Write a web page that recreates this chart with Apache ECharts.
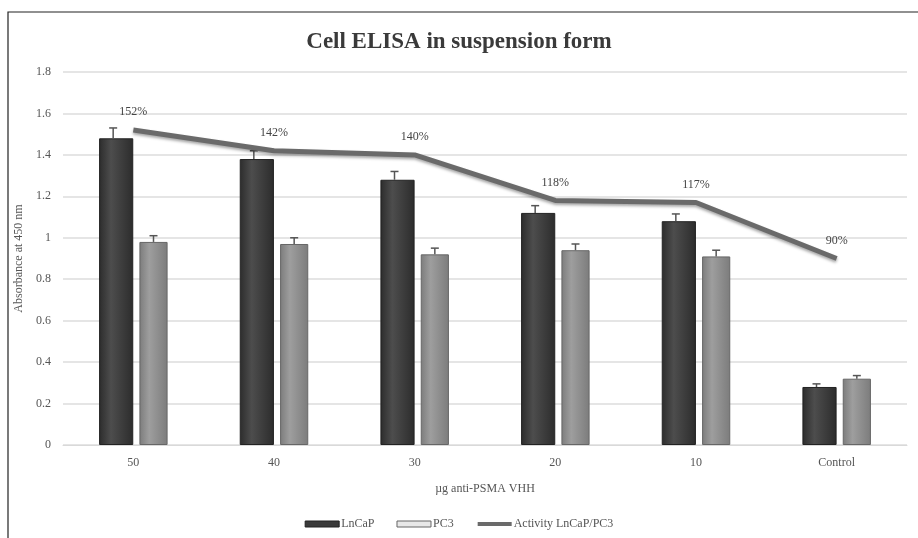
<!DOCTYPE html>
<html>
<head>
<meta charset="utf-8">
<title>Cell ELISA in suspension form</title>
<script src="https://cdn.jsdelivr.net/npm/echarts@6/dist/echarts.min.js"></script>
<style>
  html, body { margin: 0; padding: 0; background: #fff; }
  #chart { width: 918px; height: 538px; }
</style>
</head>
<body>
<div id="chart"></div>
<script>
// values
const categories = ['50', '40', '30', '20', '10', 'Control'];
const lncap = [1.48, 1.38, 1.28, 1.12, 1.08, 0.28];
const lncapErr = [0.05, 0.04, 0.04, 0.035, 0.035, 0.015];
const pc3 = [0.98, 0.97, 0.92, 0.94, 0.91, 0.32];
const pc3Err = [0.03, 0.03, 0.03, 0.03, 0.03, 0.015];
const activity = [1.52, 1.42, 1.40, 1.18, 1.17, 0.90];
const activityLabels = ['152%', '142%', '140%', '118%', '117%', '90%'];

const serif = '"Liberation Serif", "DejaVu Serif", serif';
const BAR_PCT = 0.243; // bar width as share of the category band
const GAP_PCT = 0.18;  // gap between the two bars, as share of bar width

const chart = echarts.init(document.getElementById('chart'));

function cylinder(edge, mid) {
  return new echarts.graphic.LinearGradient(0, 0, 1, 0, [
    { offset: 0, color: edge },
    { offset: 0.35, color: mid },
    { offset: 1, color: edge }
  ]);
}

// upward error whisker for one bar of the pair (side -1 left, +1 right)
function errorItem(side) {
  return function (params, api) {
    const idx = api.value(0);
    const top = api.value(1) + api.value(2);
    const base = api.coord([idx, api.value(1)]);
    const tip = api.coord([idx, top]);
    const band = api.size([1, 0])[0];
    const bw = band * BAR_PCT;
    const x = base[0] + side * (bw + bw * GAP_PCT) / 2;
    const style = { stroke: '#555', lineWidth: 1.5 };
    return {
      type: 'group',
      children: [
        { type: 'line', shape: { x1: x, y1: base[1], x2: x, y2: tip[1] }, style: style },
        { type: 'line', shape: { x1: x - 4, y1: tip[1], x2: x + 4, y2: tip[1] }, style: style }
      ]
    };
  };
}

const option = {
  backgroundColor: '#fff',
  animation: false,
  title: {
    text: 'Cell ELISA in suspension form',
    left: 'center',
    top: 26,
    textStyle: { fontFamily: serif, fontSize: 23, fontWeight: 'bold', color: '#3a3a3a' }
  },
  graphic: [{
    type: 'rect',
    shape: { x: 8, y: 12, width: 940, height: 560 },
    style: { fill: 'none', stroke: '#222', lineWidth: 1.2 },
    silent: true
  }],
  legend: {
    bottom: 3,
    left: 'center',
    itemGap: 22,
    itemWidth: 34,
    itemHeight: 6,
    textStyle: { fontFamily: serif, fontSize: 12, color: '#555', padding: [0, 0, 0, -3] },
    data: [
      { name: 'LnCaP', icon: 'rect', itemStyle: { color: '#3a3a3a', borderColor: '#222', borderWidth: 1 } },
      { name: 'PC3', icon: 'rect', itemStyle: { color: '#e8e8e8', borderColor: '#666', borderWidth: 1 } },
      { name: 'Activity LnCaP/PC3', itemStyle: { opacity: 0 }, lineStyle: { width: 4, shadowBlur: 0, shadowOffsetY: 0 } }
    ]
  },
  grid: { left: 63, right: 11, top: 72, bottom: 93 },
  xAxis: {
    type: 'category',
    data: categories,
    name: 'µg anti-PSMA VHH',
    nameLocation: 'middle',
    nameGap: 38,
    nameTextStyle: { fontFamily: serif, fontSize: 12, color: '#555' },
    axisLine: { lineStyle: { color: '#d9d9d9' } },
    axisTick: { show: false },
    axisLabel: { fontFamily: serif, fontSize: 12, color: '#555', margin: 12 }
  },
  yAxis: {
    type: 'value',
    min: 0,
    max: 1.8,
    interval: 0.2,
    name: 'Absorbance at 450 nm',
    nameLocation: 'middle',
    nameGap: 37,
    nameTextStyle: { fontFamily: serif, fontSize: 12, color: '#555' },
    axisLine: { show: false },
    axisTick: { show: false },
    axisLabel: { fontFamily: serif, fontSize: 12, color: '#555', margin: 12 },
    splitLine: { lineStyle: { color: '#dcdcdc', width: 1.5 } }
  },
  series: [
    {
      name: 'LnCaP',
      type: 'bar',
      data: lncap,
      barWidth: (BAR_PCT * 100) + '%',
      barGap: (GAP_PCT * 100) + '%',
      itemStyle: { color: cylinder('#2c2c2c', '#4d4d4d'), borderColor: '#222', borderWidth: 1 }
    },
    {
      name: 'PC3',
      type: 'bar',
      data: pc3,
      itemStyle: { color: cylinder('#7c7c7c', '#9e9e9e'), borderColor: '#666', borderWidth: 1 }
    },
    {
      name: 'LnCaP err',
      type: 'custom',
      renderItem: errorItem(-1),
      data: lncap.map((v, i) => [i, v, lncapErr[i]]),
      z: 5
    },
    {
      name: 'PC3 err',
      type: 'custom',
      renderItem: errorItem(1),
      data: pc3.map((v, i) => [i, v, pc3Err[i]]),
      z: 5
    },
    {
      name: 'Activity LnCaP/PC3',
      type: 'line',
      data: activity,
      symbol: 'circle',
      symbolSize: 0.1,
      showSymbol: true,
      z: 6,
      itemStyle: { color: '#6a6a6a' },
      lineStyle: {
        color: '#6a6a6a', width: 5,
        shadowColor: 'rgba(0,0,0,0.35)', shadowBlur: 3, shadowOffsetY: 2
      },
      label: {
        show: true,
        position: 'top',
        distance: 12,
        fontFamily: serif,
        fontSize: 12,
        color: '#444',
        formatter: p => activityLabels[p.dataIndex]
      }
    }
  ]
};

chart.setOption(option);
</script>
</body>
</html>
